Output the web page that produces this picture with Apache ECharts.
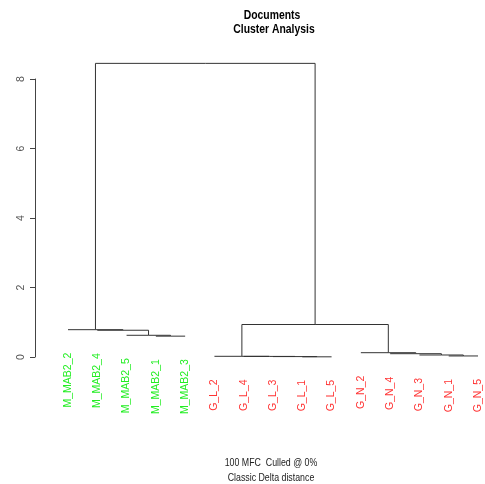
<!DOCTYPE html>
<html lang="en">
  <head>
    <meta charset="UTF-8" />
    <title>Documents Cluster Analysis</title>
    <script src="https://cdn.jsdelivr.net/npm/echarts@6/dist/echarts.min.js"></script>
    <style>
      html, body { margin: 0; padding: 0; background: #fff; }
    </style>
  </head>
  <body>
    <div id="main" style="width: 485px; height: 484px"></div>
    <script type="text/javascript">
      // leaves in the order they are drawn, left to right
      const labels = [
        "M_MAB2_2", "M_MAB2_4", "M_MAB2_5", "M_MAB2_1", "M_MAB2_3",
        "G_L_2", "G_L_4", "G_L_3", "G_L_1", "G_L_5",
        "G_N_2", "G_N_4", "G_N_3", "G_N_1", "G_N_5"
      ];

      // hclust-style merges: negative = leaf (1-based), positive = earlier merge
      const mergeLeft = [-4, -3, -2, -1, -9, -8, -7, -6, -14, -13, -12, -11, 8, 4];
      const mergeRight = [-5, 1, 2, 3, -10, 5, 6, 7, -15, 9, 10, 11, 12, 13];
      const mergeHeight = [0.6, 0.625, 0.77, 0.786, 0.005, 0.012, 0.017, 0.02, 0.03, 0.058, 0.095, 0.124, 0.935, 8.45];

      const yTicks = [0, 2, 4, 6, 8];

      const labelColor = (name) => (name.startsWith("M_") ? "#22ee22" : "#ff3333");

      // lay out the dendrogram (leaves hang at their parent's height)
      const nodeX = [];
      const leafH = [];
      const xOf = (ref) => (ref < 0 ? -ref : nodeX[ref - 1]);
      const hOf = (ref, parent) => (ref < 0 ? mergeHeight[parent] : mergeHeight[ref - 1]);
      const segments = [];
      mergeLeft.forEach((a, i) => {
        const b = mergeRight[i];
        nodeX[i] = (xOf(a) + xOf(b)) / 2;
        const h = mergeHeight[i];
        [a, b].forEach((c) => {
          if (c < 0) leafH[-c - 1] = h;
          segments.push([nodeX[i], h, xOf(c), h]);
          segments.push([xOf(c), h, xOf(c), hOf(c, i)]);
        });
      });
      const leafData = labels.map((name, i) => [i + 1, leafH[i], i]);

      const font = "'Liberation Sans', Arial, sans-serif";

      // narrow-looking text, squeezed around its centre
      const squeezed = (text, x, y, style) => ({
        type: "text",
        x: x,
        y: y,
        scaleX: 0.8,
        style: Object.assign({ text: text, align: "center", textAlign: "center" }, style)
      });

      let myChart = echarts.init(document.getElementById("main"));

      let options = {
        animation: false,
        grid: { left: 68, right: 7, top: 79, bottom: 127 },
        xAxis: { type: "value", min: 1, max: 15, show: false },
        yAxis: {
          type: "value",
          min: 0,
          max: 8,
          interval: 2,
          offset: 33,
          axisLine: { show: true, lineStyle: { color: "#444", width: 1 } },
          axisTick: { show: true, length: 5, lineStyle: { color: "#444" } },
          axisLabel: {
            rotate: 90,
            margin: 8,
            color: "#555",
            fontSize: 10.5,
            fontFamily: font,
            formatter: (v) => (yTicks.includes(v) ? String(v) : "")
          },
          splitLine: { show: false }
        },
        graphic: [
          squeezed("Documents", 272, 9, { font: "bold 13px " + font, fill: "#000" }),
          squeezed("Cluster Analysis", 274, 23, { font: "bold 13px " + font, fill: "#000" }),
          squeezed("100 MFC  Culled @ 0%", 271, 457, { font: "11px " + font, fill: "#222" }),
          squeezed("Classic Delta distance", 271, 472, { font: "11px " + font, fill: "#222" })
        ],
        series: [
          {
            type: "custom",
            clip: false,
            data: segments,
            renderItem: (params, api) => {
              const p1 = api.coord([api.value(0), api.value(1)]);
              const p2 = api.coord([api.value(2), api.value(3)]);
              return {
                type: "line",
                shape: { x1: p1[0], y1: p1[1], x2: p2[0], y2: p2[1] },
                style: { stroke: "#333", lineWidth: 1 }
              };
            }
          },
          {
            type: "custom",
            clip: false,
            data: leafData,
            renderItem: (params, api) => {
              const p = api.coord([api.value(0), api.value(1)]);
              const name = labels[api.value(2)];
              return {
                type: "text",
                x: p[0],
                y: p[1] + 23,
                rotation: Math.PI / 2,
                style: {
                  text: name,
                  font: "10.5px " + font,
                  fill: labelColor(name),
                  align: "right",
                  verticalAlign: "middle"
                }
              };
            }
          }
        ]
      };

      myChart.setOption(options);
    </script>
  </body>
</html>
